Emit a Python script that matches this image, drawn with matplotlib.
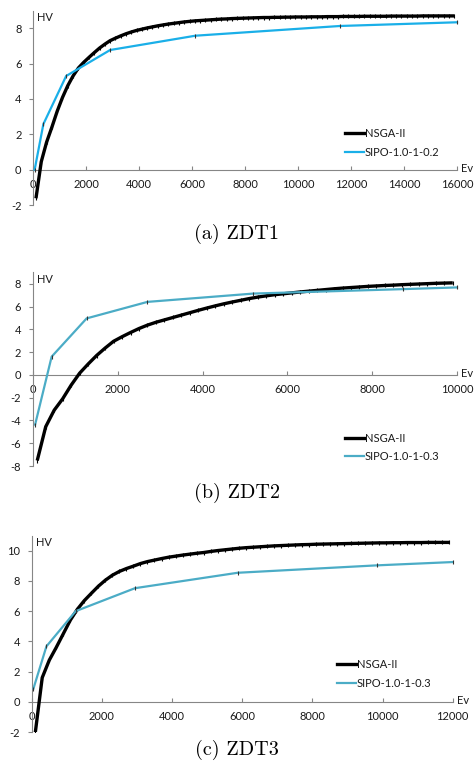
import numpy as np
import matplotlib
matplotlib.use("Agg")
import matplotlib.pyplot as plt
from matplotlib.lines import Line2D

plt.rcParams['axes.unicode_minus'] = False
plt.rcParams['font.family'] = ['Lato', 'DejaVu Sans']

# ---- data ----
# ZDT1
zdt1_nsga_ev = np.arange(100, 16000, 200)
zdt1_nsga_hv = [-1.62, 0.45, 1.55, 2.4, 3.3, 4.08, 4.75, 5.3, 5.75, 6.07,
                6.35, 6.62, 6.88, 7.1, 7.3, 7.44, 7.57, 7.69, 7.79, 7.88,
                7.95, 8.02, 8.08, 8.14, 8.19, 8.24, 8.28, 8.32, 8.36, 8.39,
                8.42, 8.44, 8.46, 8.48, 8.50, 8.52, 8.53, 8.55, 8.56, 8.57,
                8.58, 8.59, 8.60, 8.61, 8.61, 8.62, 8.62, 8.63, 8.63, 8.64,
                8.64, 8.64, 8.65, 8.65, 8.65, 8.66, 8.66, 8.66, 8.67, 8.67,
                8.67, 8.67, 8.68, 8.68, 8.68, 8.68, 8.68, 8.69, 8.69, 8.69,
                8.69, 8.69, 8.69, 8.70, 8.70, 8.70, 8.70, 8.70, 8.70, 8.70]
zdt1_sipo_ev = [50, 380, 1240, 2900, 6120, 11580, 16000]
zdt1_sipo_hv = [0.0, 2.58, 5.30, 6.77, 7.58, 8.13, 8.34]

# ZDT2
zdt2_nsga_ev = np.arange(100, 10000, 200)
zdt2_nsga_hv = [-7.52, -4.55, -3.1, -2.1, -0.9, 0.15, 0.95, 1.7, 2.35, 2.95,
                3.35, 3.72, 4.07, 4.37, 4.62, 4.83, 5.04, 5.25, 5.46, 5.67,
                5.87, 6.06, 6.24, 6.4, 6.55, 6.7, 6.83, 6.94, 7.04, 7.12,
                7.2, 7.28, 7.35, 7.42, 7.49, 7.56, 7.62, 7.67, 7.72, 7.77,
                7.81, 7.85, 7.88, 7.92, 7.95, 7.98, 8.01, 8.04, 8.06, 8.08]
zdt2_sipo_ev = [50, 440, 1265, 2700, 5200, 8730, 10000]
zdt2_sipo_hv = [-4.37, 1.60, 4.96, 6.41, 7.14, 7.53, 7.68]

# ZDT3
zdt3_nsga_ev = np.arange(100, 12000, 200)
zdt3_nsga_hv = [-2.08, 1.6, 2.75, 3.6, 4.5, 5.4, 6.12, 6.7, 7.18, 7.65,
                8.05, 8.38, 8.63, 8.82, 8.98, 9.15, 9.28, 9.38, 9.48, 9.57,
                9.64, 9.71, 9.77, 9.83, 9.88, 9.95, 10.01, 10.06, 10.11, 10.16,
                10.2, 10.23, 10.26, 10.29, 10.32, 10.34, 10.36, 10.38, 10.4, 10.41,
                10.43, 10.44, 10.45, 10.46, 10.47, 10.48, 10.49, 10.5, 10.51, 10.52,
                10.52, 10.53, 10.53, 10.54, 10.54, 10.54, 10.55, 10.55, 10.55, 10.55]
zdt3_sipo_ev = [50, 420, 1254, 2944, 5870, 9830, 12000]
zdt3_sipo_hv = [0.88, 3.67, 6.0, 7.52, 8.54, 9.03, 9.25]

AXIS_GREY = '#868686'
TEXT_COL = '#1a1a1a'
FS = 8


def draw_panel(fig, rect, nsga, sipo, sipo_label, sipo_color, xmax, ylim,
               xticks, yticks, legend_at, caption, caption_y):
    ax = fig.add_axes(rect)
    ax.plot(nsga[0], nsga[1], color='black', lw=2.4, marker='|', ms=3.5,
            mew=0.8, solid_capstyle='butt', zorder=3)
    ax.plot(sipo[0], sipo[1], color=sipo_color, lw=1.6, marker='|', ms=3.5,
            mew=0.8, mec='#333333', zorder=4, clip_on=False)

    ax.set_xlim(0, xmax)
    ax.set_ylim(*ylim)
    ax.set_xticks(xticks)
    ax.set_yticks(yticks)

    for s in ('top', 'right'):
        ax.spines[s].set_visible(False)
    ax.spines['bottom'].set_position(('data', 0))
    for s in ('left', 'bottom'):
        ax.spines[s].set_color(AXIS_GREY)
        ax.spines[s].set_linewidth(0.8)

    ax.tick_params(axis='x', direction='in', length=3, width=0.8,
                   color=AXIS_GREY, labelsize=FS, labelcolor=TEXT_COL, pad=6.5)
    ax.tick_params(axis='y', direction='out', length=3, width=0.8,
                   color=AXIS_GREY, labelsize=FS, labelcolor=TEXT_COL, pad=5.5)

    ax.annotate('HV', xy=(0, 1), xycoords='axes fraction', xytext=(3, -5),
                textcoords='offset points', ha='left', va='center',
                fontsize=FS, color=TEXT_COL)
    ax.annotate('Ev', xy=(xmax, 0), xycoords='data', xytext=(3, 1),
                textcoords='offset points', ha='left', va='center',
                fontsize=FS, color=TEXT_COL, annotation_clip=False)

    handles = [Line2D([], [], color='black', lw=2.4),
               Line2D([], [], color=sipo_color, lw=1.6)]
    fig.legend(handles, ['NSGA-II', sipo_label], loc='center left',
               bbox_to_anchor=legend_at, bbox_transform=fig.transFigure,
               frameon=False, fontsize=FS, handlelength=1.75,
               handletextpad=0.05, labelspacing=0.7, borderpad=0,
               borderaxespad=0, labelcolor=TEXT_COL)

    fig.text(0.497, caption_y, caption, ha='center', va='center',
             fontsize=14.5, family='cmr10')
    return ax


fig = plt.figure(figsize=(4.76, 7.69), dpi=100)

draw_panel(fig, [0.0700, 0.7334, 0.8901, 0.2528],
           (zdt1_nsga_ev, zdt1_nsga_hv), (zdt1_sipo_ev, zdt1_sipo_hv),
           'SIPO-1.0-1-0.2', '#1AAFE8', 16000, (-2, 9),
           range(0, 16001, 2000), range(-2, 9, 2),
           (0.7248, 0.814), '(a) ZDT1', 0.6957)

draw_panel(fig, [0.0693, 0.3940, 0.8908, 0.2518],
           (zdt2_nsga_ev, zdt2_nsga_hv), (zdt2_sipo_ev, zdt2_sipo_hv),
           'SIPO-1.0-1-0.3', '#4BACC6', 10000, (-8, 9),
           range(0, 10001, 2000), range(-8, 9, 2),
           (0.7248, 0.4181), '(b) ZDT2', 0.3589)

draw_panel(fig, [0.0666, 0.0481, 0.8845, 0.2554],
           (zdt3_nsga_ev, zdt3_nsga_hv), (zdt3_sipo_ev, zdt3_sipo_hv),
           'SIPO-1.0-1-0.3', '#4BACC6', 12000, (-2, 11),
           range(0, 12001, 2000), range(-2, 11, 2),
           (0.708, 0.1236), '(c) ZDT3', 0.0247)

fig.savefig('out.png', dpi=100)
